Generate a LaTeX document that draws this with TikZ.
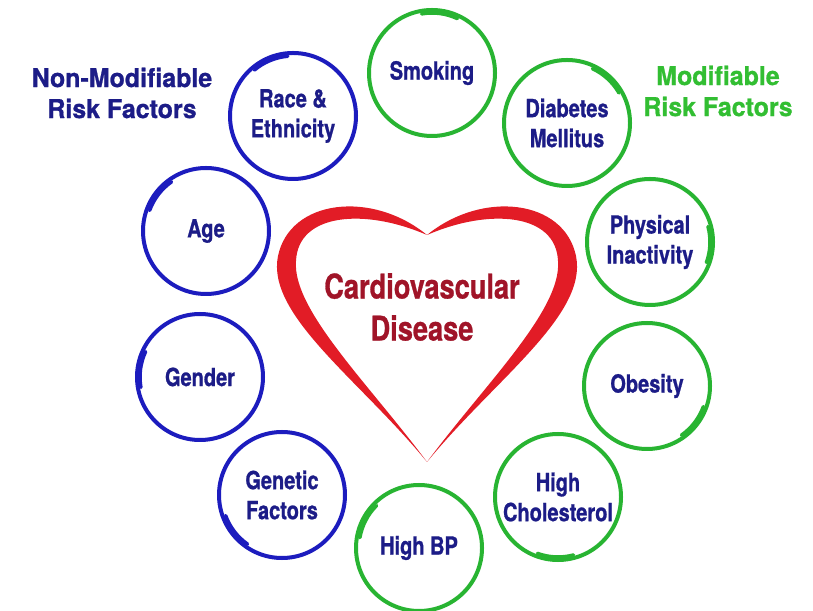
\documentclass[tikz,border=0pt]{standalone}
\usepackage{fontspec}
\setmainfont{TeX Gyre Heros}
\newfontfamily\narrowsans{texgyreheros-bold.otf}[FakeStretch=0.8,FakeBold=0.8]
\newfontfamily\headsans{texgyreheros-bold.otf}[FakeStretch=0.96,FakeBold=0.8]
\usetikzlibrary{calc}
\definecolor{riskblue}{RGB}{28,28,190}
\definecolor{textnavy}{RGB}{28,28,135}
\definecolor{riskgreen}{RGB}{40,180,50}
\definecolor{headgreen}{RGB}{50,190,50}
\definecolor{heartred}{RGB}{226,28,38}
\definecolor{cvdred}{RGB}{160,20,40}

\begin{document}
\begin{tikzpicture}[x=1pt,y=1pt,
            factor/.style={circle,draw,line width=4pt,minimum size=126pt,inner sep=0pt,align=center,text=textnavy,font=\narrowsans\fontsize{25}{30}\selectfont},
            fixed/.style={factor,draw=riskblue},
            changeable/.style={factor,draw=riskgreen},
            heading/.style={align=center,font=\headsans\fontsize{26}{31}\selectfont}]

            \useasboundingbox[fill=white] (0,0) rectangle (813,610);

            % heart
            \fill[heartred] (427,148) .. controls (360,230) and (266,295) .. (278,354)
               .. controls (290,411) and (372,420) .. (427,375)
               .. controls (365,402) and (298,397) .. (296,349)
               .. controls (292,300) and (370,225) .. (427,148) -- cycle;
            \fill[heartred] (427,148) .. controls (494,230) and (588,295) .. (576,354)
               .. controls (564,411) and (482,420) .. (427,375)
               .. controls (489,402) and (556,397) .. (558,349)
               .. controls (562,300) and (484,225) .. (427,148) -- cycle;
            \node[align=center,text=cvdred,font=\narrowsans\fontsize{34}{42}\selectfont] (cvd) at (422,303) {Cardiovascular\\Disease};

            % headings
            \node[heading,text=textnavy] (nonmod) at (122,517) {Non-Modifiable\\Risk Factors};
            \node[heading,text=headgreen] (mod) at (718,519) {Modifiable\\Risk Factors};

            % non-modifiable
            \node[fixed] (race) at (293,494) {Race \&\\Ethnicity};
            \node[fixed] (age) at (206,379) {Age};
            \node[fixed] (gender) at (200,233) {Gender};
            \node[fixed] (genetic) at (282,115) {Genetic\\Factors};

            % modifiable
            \node[changeable] (smoking) at (432,537) {Smoking};
            \node[changeable] (diabetes) at (567,487) {Diabetes\\Mellitus};
            \node[changeable] (inactivity) at (650,368) {Physical\\Inactivity};
            \node[changeable] (obesity) at (647,224) {Obesity};
            \node[changeable] (cholesterol) at (558,113) {High\\Cholesterol};
            \node[changeable] (bp) at (419,62) {High BP};

            % brush overlaps
            \foreach \n/\a/\c in {race/130/riskblue,age/160/riskblue,gender/190/riskblue,genetic/235/riskblue,
                                  smoking/100/riskgreen,diabetes/65/riskgreen,inactivity/15/riskgreen,
                                  obesity/-20/riskgreen,cholesterol/-75/riskgreen,bp/170/riskgreen}
               \draw[\c,line width=3.5pt,line cap=round] ([shift={(\a:60pt)}]\n.center) arc[start angle=\a,end angle=\a-35,radius=60pt];
         \end{tikzpicture}
\end{document}
